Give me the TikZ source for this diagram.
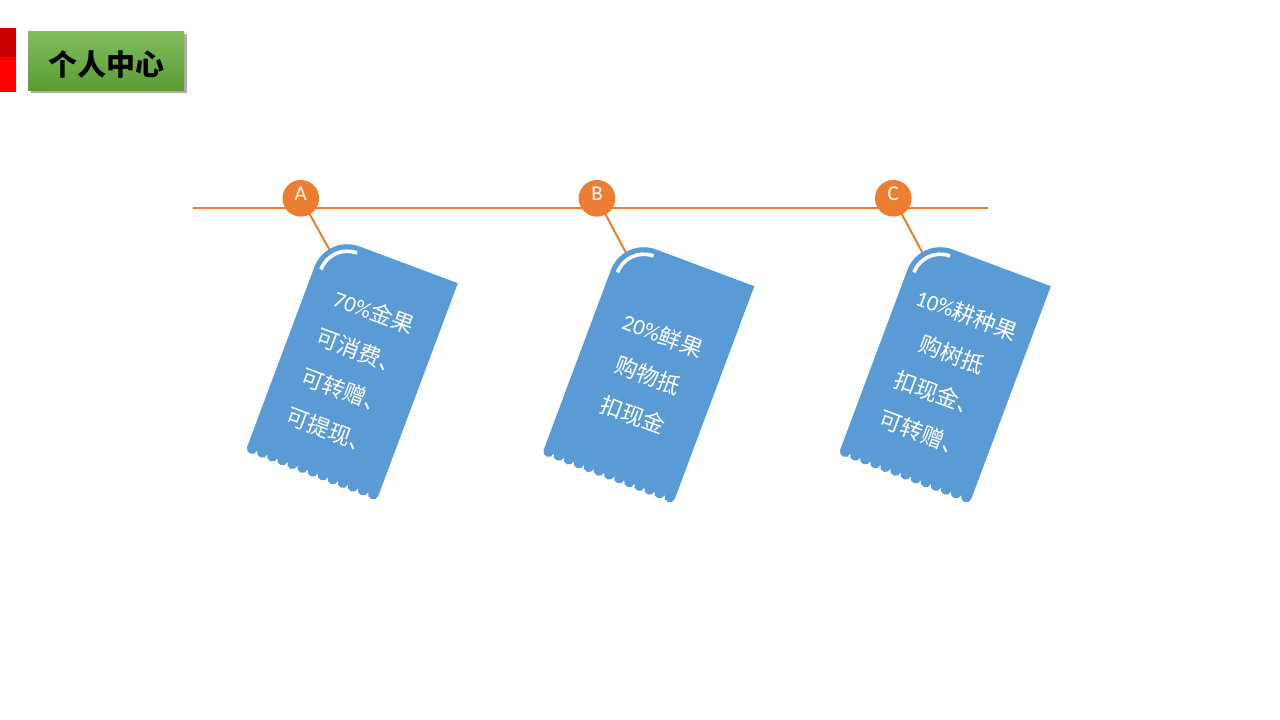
\documentclass[tikz,border=0pt]{standalone}
\usepackage{fontspec}
\newfontfamily\cjk{Noto Sans CJK SC}
\newfontfamily\lat{Carlito}
\usetikzlibrary{shadows}
\definecolor{tagblue}{HTML}{5B9BD5}
\definecolor{orng}{HTML}{ED7D31}
\definecolor{gtop}{HTML}{82BE5E}
\definecolor{gbot}{HTML}{5A9C33}
\definecolor{rdark}{HTML}{CC0000}
\definecolor{rbright}{HTML}{FF0000}
\tikzset{
  tagpic/.pic={
    \fill[tagblue] (-70,113.5) -- (-70,-78.5) arc[start angle=180,end angle=270,radius=35]
      -- (70,-113.5) -- (70,113.5)
      \foreach \i in {1,...,13}{ arc[start angle=0,end angle=180,radius=5.385] } -- cycle;
    \draw[white,line width=3.6] (-63,-78.5) arc[start angle=180,end angle=270,radius=28];
  },
  tagtext/.style={text=white,transform shape,inner sep=0,font=\cjk\fontsize{22.5}{26}\selectfont},
  pin/.style={circle,fill=orng,minimum size=36.6,inner sep=0,text=white,
    font=\lat\fontsize{21}{21}\selectfont,text height=13.5pt,text depth=8.5pt},
  wire/.style={orng,line width=2},
}
\begin{document}
\begin{tikzpicture}[x=1pt,y=-1pt]
\useasboundingbox[fill=white] (0,0) rectangle (1280,720);
% red bar
\fill[rdark] (0,28) rectangle (16,57);
\fill[rbright] (0,57) rectangle (16,92);
% title
\node[minimum width=156,minimum height=59,inner sep=0,top color=gtop,bottom color=gbot,
  drop shadow={shadow xshift=2.5pt,shadow yshift=-2.5pt,fill=black!45,opacity=0.7},
  font=\cjk\bfseries\fontsize{29}{29}\selectfont,text=black,text height=29pt,text depth=0pt] (title) at (106,60.5) {个人中心};
% hole coordinates
\begin{scope}[shift={(352.5,365)},rotate=-20.5] \coordinate (ha) at (-62,-100); \end{scope}
\begin{scope}[shift={(649,368)},rotate=-20.5] \coordinate (hb) at (-62,-100); \end{scope}
\begin{scope}[shift={(945.5,368)},rotate=-20.5] \coordinate (hc) at (-62,-100); \end{scope}
% main line
\coordinate (l1) at (193,207.5);
\coordinate (l2) at (988,207.5);
\draw[wire] (l1) -- (l2);
% pins
\coordinate (pa) at (300.8,198.3);
\coordinate (pb) at (597,198.3);
\coordinate (pc) at (893.3,198.3);
\draw[wire] (pa) -- (ha);
\draw[wire] (pb) -- (hb);
\draw[wire] (pc) -- (hc);
\node[pin] (ca) at (pa) {A};
\node[pin] (cb) at (pb) {B};
\node[pin] (cc) at (pc) {C};
% tag A
\begin{scope}[shift={(352.5,365)},rotate=-20.5]
  \pic[transform shape] {tagpic};
  \node[tagtext] (a1) at (1.5,-57.5) {{\lat 70\%}金果};
  \node[tagtext] (a2) at (1.5,-15.2) {可消费、};
  \node[tagtext] (a3) at (1.5,27.1) {可转赠、};
  \node[tagtext] (a4) at (1.5,69.4) {可提现、};
\end{scope}
% tag B
\begin{scope}[shift={(649,368)},rotate=-20.5]
  \pic[transform shape] {tagpic};
  \node[tagtext] (b1) at (1.5,-35.5) {{\lat 20\%}鲜果};
  \node[tagtext] (b2) at (1.5,7) {购物抵};
  \node[tagtext] (b3) at (1.5,49.5) {扣现金};
\end{scope}
% tag C
\begin{scope}[shift={(945.5,368)},rotate=-20.5]
  \pic[transform shape] {tagpic};
  \node[tagtext] (c1) at (1.5,-57.5) {{\lat 10\%}耕种果};
  \node[tagtext] (c2) at (1.5,-15.2) {购树抵};
  \node[tagtext] (c3) at (1.5,27.1) {扣现金、};
  \node[tagtext] (c4) at (1.5,69.4) {可转赠、};
\end{scope}
\end{tikzpicture}
\end{document}
